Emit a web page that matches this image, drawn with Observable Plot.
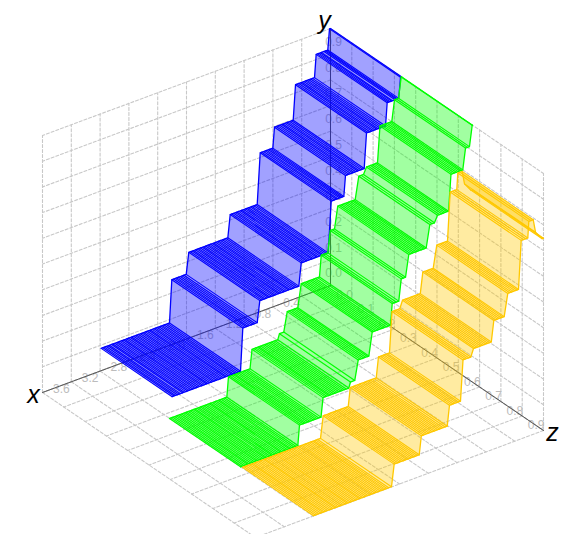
<!DOCTYPE html>
<html><head><meta charset="utf-8">
<style>html,body{margin:0;padding:0;background:#fff}svg{display:block}</style>
<script src="https://cdn.jsdelivr.net/npm/d3@7"></script>
<script src="https://cdn.jsdelivr.net/npm/@observablehq/plot@0.6"></script>
</head><body><div id="chart"></div>
<script>
// Tick values of the three axes
const xTicks=[0,0.4,0.8,1.2,1.6,2.0,2.4,2.8,3.2,3.6,4.0];
const yTicks=[0,0.1,0.2,0.3,0.4,0.5,0.6,0.7,0.8,0.9,1.0];
const zTicks=[0,0.1,0.2,0.3,0.4,0.5,0.6,0.7,0.8,0.9,1.0];
const xLabels=["0.4","0.8","1.2","1.6","2.0","2.4","2.8","3.2","3.6"];
const yLabels=["0.0","0.1","0.2","0.3","0.4","0.5","0.6","0.7","0.8","0.9"];
const zLabels=["0.0","0.1","0.2","0.3","0.4","0.5","0.6","0.7","0.8","0.9"];

// Ribbon 1: y level of every stair, and x samples on that stair
const blueLevels=[0.087,0.252,0.334,0.421,0.618,0.697,0.832,0.92,1.0];
const blueTreads=[
[3.185,3.16,3.14,3.115,3.09,3.07,3.04,3.02,2.995,2.97,2.95,2.925,2.9,2.875,2.855,2.83,2.805,2.78,2.76,2.735,2.71,2.69,2.665,2.64,2.615,2.595,2.57,2.545,2.52,2.5,2.475,2.45,2.43,2.405,2.38,2.355,2.335,2.31,2.285,2.26,2.236],
[2.204,2.18,2.155,2.135,2.11,2.085,2.06,2.035,2.004],
[1.968,1.945,1.92,1.9,1.875,1.85,1.83,1.805,1.78,1.76,1.735,1.71,1.69,1.665,1.64,1.62,1.595,1.57,1.55,1.525,1.5,1.475,1.45,1.426],
[1.393,1.37,1.345,1.32,1.3,1.275,1.25,1.23,1.205,1.18,1.16,1.135,1.11,1.09,1.065,1.04,1.018],
[0.976,0.955,0.93,0.905,0.885,0.86,0.84,0.82,0.801],
[0.778,0.755,0.73,0.705,0.68,0.66,0.635,0.61,0.59,0.565,0.54,0.518],
[0.486,0.465,0.44,0.415,0.395,0.37,0.345,0.325,0.3,0.275,0.25,0.222],
[0.199,0.18,0.16,0.14,0.125,0.09,0.07,0.055,0.0375],
[0.014,0]];

// Ribbon 2
const greenLevels=[0.006,0.083,0.156,0.177,0.2515,0.34,0.422,0.505,0.589,0.675,0.70,0.84,0.921,1.0];
const greenTreads=[
[3.222,3.2,3.175,3.15,3.125,3.105,3.08,3.055,3.03,3.005,2.985,2.96,2.935,2.91,2.885,2.865,2.84,2.815,2.79,2.77,2.745,2.72,2.695,2.67,2.65,2.625,2.6,2.575,2.55,2.53,2.505,2.48,2.455,2.426],
[2.403,2.38,2.355,2.33,2.31,2.285,2.26,2.235,2.21,2.185,2.16,2.135,2.104],
[2.076,2.05,2.025,2.0,1.98,1.955,1.93,1.905,1.88,1.855,1.83,1.805,1.78,1.755,1.718],
[1.695,1.635],
[1.587,1.56,1.535,1.51,1.485,1.46,1.44],
[1.393,1.37,1.345,1.32,1.295,1.27,1.245,1.22,1.195,1.165,1.139],
[1.115,1.09,1.06,1.024],
[0.99,0.96,0.93],
[0.885,0.86,0.835,0.81,0.785,0.76,0.735,0.71,0.685,0.665,0.643],
[0.593,0.56,0.528],
[0.486,0.46,0.43,0.405,0.38,0.355,0.333],
[0.299,0.275,0.25,0.225,0.2,0.175,0.155,0.135],
[0.097,0.07,0.042],
[0.004,0]];

// Ribbon 3
const orangeLevels=[0.001,0.085,0.156,0.234,0.391,0.42,0.50,0.585,0.772,0.835,0.783,0.748];
const orangeTreads=[
[3.194,3.17,3.145,3.12,3.095,3.07,3.05,3.025,3.0,2.975,2.95,2.925,2.9,2.88,2.855,2.83,2.805,2.78,2.755,2.73,2.71,2.685,2.66,2.635,2.61,2.585,2.56,2.54,2.515,2.49,2.465,2.44,2.415,2.39,2.37,2.345,2.32,2.295,2.27,2.245,2.22,2.2,2.175,2.15,2.111],
[2.074,2.05,2.025,2.0,1.975,1.95,1.925,1.9,1.875,1.85,1.825,1.8,1.775,1.75,1.726],
[1.697,1.67,1.645,1.62,1.595,1.57,1.545,1.52,1.495,1.47,1.445,1.42,1.395,1.365,1.337],
[1.306,1.28,1.255,1.23,1.205,1.18,1.153],
[1.118,1.09,1.065,1.04,1.01],
[0.972,0.95,0.925,0.9,0.875,0.85,0.825,0.8,0.775,0.75,0.725],
[0.69,0.665,0.64,0.615,0.59,0.565,0.546],
[0.496,0.47,0.445,0.42,0.395,0.37,0.347],
[0.31,0.28,0.25,0.218],
[0.204,0.175,0.143],
[0.111],
[0.018,0]];

const ribbons=[
  {levels:blueLevels,treads:blueTreads,z0:0,z1:1/3,color:"#0000ff"},
  {levels:greenLevels,treads:greenTreads,z0:1/3,z1:2/3,color:"#00ff00"},
  {levels:orangeLevels,treads:orangeTreads,z0:2/3,z1:1,color:"#ffc800"}
];

// Oblique view: where the origin sits and where one unit of each axis leads
const view={origin:[330,285],x:[-72,26.75],y:[0,-257],z:[213,145]};
const project=(x,y,z)=>({
  px:view.origin[0]+x*view.x[0]+y*view.y[0]+z*view.z[0],
  py:view.origin[1]+x*view.x[1]+y*view.y[1]+z*view.z[1]
});
const seg=(id,a,b)=>[{id,...project(...a)},{id,...project(...b)}];

// Grids on the three walls
const grid=[];
xTicks.forEach((t,i)=>{grid.push(...seg("xw"+i,[t,0,0],[t,1,0]),...seg("xf"+i,[t,0,0],[t,0,1]));});
yTicks.forEach((t,i)=>{grid.push(...seg("yb"+i,[0,t,0],[4,t,0]),...seg("yr"+i,[0,t,0],[0,t,1]));});
zTicks.forEach((t,i)=>{grid.push(...seg("zw"+i,[0,0,t],[0,1,t]),...seg("zf"+i,[0,0,t],[4,0,t]));});

// In the reference the z axis only shows from about z = 0.29 onward
const axes=[...seg("ax",[0,0,0],[4,0,0]),...seg("ay",[0,0,0],[0,1,0]),...seg("az",[0,0,0.29],[0,0,1])];

const xTickText=xLabels.map(s=>({s,...project(+s,0,0)}));
const yTickText=yLabels.map(s=>({s,...project(0,+s,0)}));
const zTickText=zLabels.map(s=>({s,...project(0,0,+s)}));
const tickStyle={x:"px",y:"py",text:"s",fill:"#bcbcbc",fontSize:12};
const titleStyle={x:"px",y:"py",text:"s",fill:"#000",fontSize:25,fontStyle:"italic"};

function ribbonMarks(r){
  // points ordered from the top of the stairs (x = 0) to the bottom
  const pts=[];
  for(let i=r.levels.length-1;i>=0;i--){
    r.treads[i].slice().reverse().forEach(x=>pts.push({x,y:r.levels[i]}));
  }
  const quads=[],cross=[],edges=[];
  pts.forEach((p,i)=>{
    cross.push(...seg("c"+i,[p.x,p.y,r.z0],[p.x,p.y,r.z1]));
    edges.push({id:"a",...project(p.x,p.y,r.z0)});
    if(i<pts.length-1){
      const q=pts[i+1];
      [[p,r.z0],[p,r.z1],[q,r.z1],[q,r.z0],[p,r.z0]].forEach(([v,z])=>quads.push({id:"q"+i,...project(v.x,v.y,z)}));
    }
  });
  pts.forEach(p=>edges.push({id:"b",...project(p.x,p.y,r.z1)}));
  return [
    Plot.line(quads,{x:"px",y:"py",z:"id",fill:r.color,fillOpacity:0.37,stroke:"none"}),
    Plot.line(cross,{x:"px",y:"py",z:"id",stroke:r.color,strokeWidth:1.12}),
    Plot.line(edges,{x:"px",y:"py",z:"id",stroke:r.color,strokeWidth:1.3})
  ];
}

const chart=Plot.plot({
  width:573,height:534,margin:0,
  style:{background:"#fff",fontFamily:"'Liberation Sans',sans-serif"},
  x:{domain:[0,573],range:[0,573],axis:null},
  y:{domain:[0,534],range:[0,534],axis:null},
  marks:[
    Plot.line(grid,{x:"px",y:"py",z:"id",stroke:"#c8c8c8",strokeWidth:1.1,strokeDasharray:"3,2",clip:true}),
    Plot.text(xTickText,{...tickStyle,dx:-10,dy:7}),
    Plot.text(yTickText,{...tickStyle,dx:3,dy:-12}),
    Plot.text(zTickText,{...tickStyle,dx:14,dy:9.5}),
    Plot.line(axes,{x:"px",y:"py",z:"id",stroke:"#555",strokeWidth:1}),
    ...ribbons.flatMap(ribbonMarks),
    Plot.text([{s:"x",...project(4,0,0)}],{...titleStyle,dx:-9,dy:2}),
    Plot.text([{s:"y",...project(0,1,0)}],{...titleStyle,dx:-6,dy:-8}),
    Plot.text([{s:"z",...project(0,0,1)}],{...titleStyle,dx:9,dy:2})
  ]
});
document.getElementById("chart").append(chart);
</script></body></html>
